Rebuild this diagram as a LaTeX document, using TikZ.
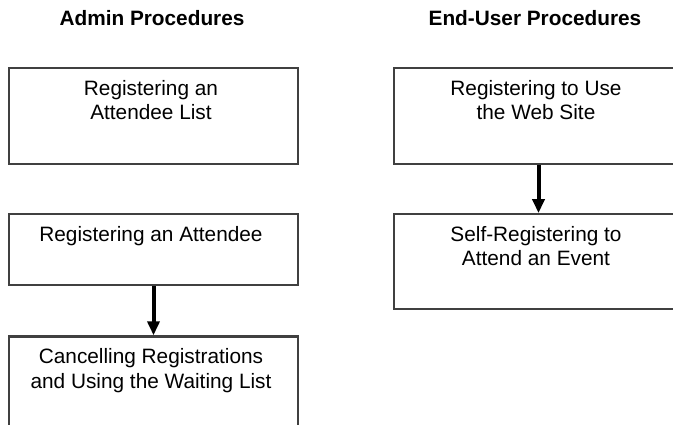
\documentclass[tikz,border=0pt]{standalone}
\usepackage{fontspec}
\setmainfont{Liberation Sans}
\usetikzlibrary{arrows.meta,positioning}

\begin{document}
\begin{tikzpicture}[x=1pt,y=1pt,node distance=48pt,
  proc box/.style={rectangle,draw=black!75,line width=2.2pt,minimum width=289pt,minimum height=96pt,inner sep=0pt},
  proc text/.style={inner sep=0pt,anchor=north,align=center,xshift=-2.5pt,font=\fontsize{20.8}{24.5}\selectfont},
  heading/.style={anchor=base,inner sep=0pt,font=\fontsize{20.8}{24.5}\selectfont\bfseries},
  flow/.style={-{Triangle[width=12pt,length=14pt]},line width=4pt}]

  \useasboundingbox (0,0) rectangle (673,-424);
  \clip (0,0) rectangle (673,-424);

  % column headings
  \node[heading] (admin) at (152,-25) {Admin Procedures};
  \node[heading] (enduser) at (535,-25) {End-User Procedures};

  % admin column
  \node[proc box] (attlist) at (153.5,-116) {};
  \node[proc box,minimum height=71pt,below=of attlist] (attendee) {};
  \node[proc box,below=49pt of attendee] (cancel) {};

  % end-user column
  \node[proc box] (website) at (538.5,-116) {};
  \node[proc box,minimum height=95pt,below=of website] (selfreg) {};

  \node[proc text,below=13pt of attlist.north] (attlist text) {Registering an\\Attendee List};
  \node[proc text,below=13pt of attendee.north] (attendee text) {Registering an Attendee};
  \node[proc text,below=13pt of cancel.north] (cancel text) {Cancelling Registrations\\and Using the Waiting List};
  \node[proc text,below=13pt of website.north] (website text) {Registering to Use\\the Web Site};
  \node[proc text,below=13pt of selfreg.north] (selfreg text) {Self-Registering to\\Attend an Event};

  \path[flow]
    (attendee) edge (cancel)
    (website) edge (selfreg);
\end{tikzpicture}
\end{document}
